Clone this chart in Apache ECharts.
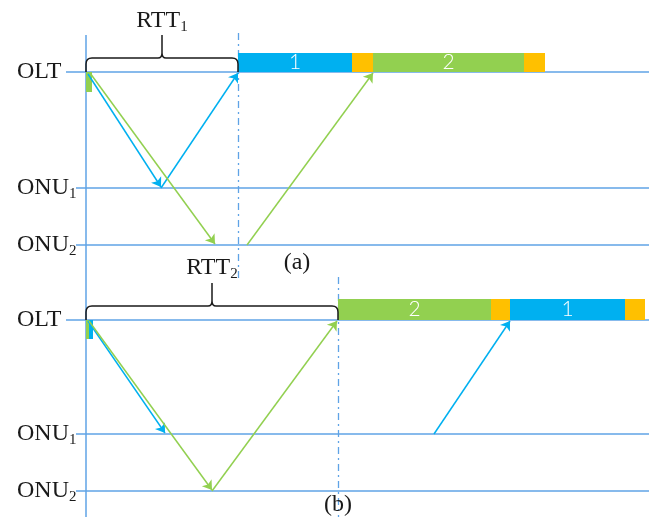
<!DOCTYPE html>
<html><head><meta charset="utf-8">
<script src="https://cdn.jsdelivr.net/npm/echarts@6/dist/echarts.min.js"></script>
<style>html,body{margin:0;padding:0;background:#fff}#c{width:657px;height:517px}</style>
</head><body><div id="c"></div>
<script>
// ---------- data (diagram units: 1 unit = 1 px of the 657x517 canvas) ----------
const laneLabels = ['OLT', 'ONU', 'ONU'];
const laneSubs = ['', '1', '2'];
const laneYA = [72, 188, 245];
const laneYB = [320, 434, 491];
const laneStartX = [66, 76, 76];
const laneEndX = 649;
const laneLabelX = 17;

const timeAxisX = 86;
const timeAxisSpan = [35, 517];
const rttMarkX = [238, 338];
const rttMarkSpanA = [33, 278];
const rttMarkSpanB = [277, 517];

const burstStartA = [238, 352, 373, 524];
const burstEndA   = [352, 373, 524, 545];
const burstKindA  = ['onu1', 'guard', 'onu2', 'guard'];
const burstTextA  = ['1', '', '2', ''];
const burstRowA   = [53, 72];
const burstStartB = [338, 491, 510, 625];
const burstEndB   = [491, 510, 625, 645];
const burstKindB  = ['onu2', 'guard', 'onu1', 'guard'];
const burstTextB  = ['2', '', '1', ''];
const burstRowB   = [299, 320];

const grantStartA = [86];
const grantEndA   = [92];
const grantKindA  = ['onu2'];
const grantRowA   = [72, 92];
const grantStartB = [86, 89];
const grantEndB   = [89, 93];
const grantKindB  = ['onu2', 'onu1'];
const grantRowB   = [320, 339];

const arrowFrom = [[88, 74], [161, 188], [90, 73], [247, 245], [88, 321], [89, 321], [212, 491], [434, 434]];
const arrowTo   = [[161, 187], [238, 73], [215, 244], [373, 73], [165, 433], [212, 490], [337, 321], [510, 321]];
const arrowKind = ['onu1', 'onu1', 'onu2', 'onu2', 'onu1', 'onu2', 'onu2', 'onu1'];

const braceFrom = [86, 86];
const braceTo   = [238, 338];
const braceBase = [72, 320];
const braceBar  = [58, 306];
const braceTip  = [35, 283];
const braceLabel = ['RTT', 'RTT'];
const braceSub   = ['1', '2'];
const braceLabelY = [21, 268];

const panelTags = ['(a)', '(b)'];
const panelTagX = [297, 338];
const panelTagY = [263, 505];

// ---------- styles ----------
const colors = { onu1: '#00b0f0', onu2: '#92d050', guard: '#ffc000' };
const laneColor = '#5fa3e6';
const serif = '"Liberation Serif","Times New Roman",serif';
const richStyle = {
  m: { fontFamily: serif, fontSize: 24, lineHeight: 28, fill: '#1a1a1a' },
  s: { fontFamily: serif, fontSize: 15, lineHeight: 14, verticalAlign: 'bottom', fill: '#1a1a1a' }
};

// ---------- build ----------
const laneLines = [];
[laneYA, laneYB].forEach(ys => ys.forEach((y, i) => laneLines.push({ coords: [[laneStartX[i], y], [laneEndX, y]] })));
laneLines.push({ coords: [[timeAxisX, timeAxisSpan[0]], [timeAxisX, timeAxisSpan[1]]] });

const rttLines = [
  { coords: [[rttMarkX[0], rttMarkSpanA[0]], [rttMarkX[0], rttMarkSpanA[1]]] },
  { coords: [[rttMarkX[1], rttMarkSpanB[0]], [rttMarkX[1], rttMarkSpanB[1]]] }
];

const arrows = arrowFrom.map((f, i) => ({
  coords: [f, arrowTo[i]],
  lineStyle: { color: colors[arrowKind[i]] }
}));

const rectRows = [];
const rectKinds = [];
const rectTexts = [];
function addRects(starts, ends, kinds, texts, row) {
  starts.forEach((s, i) => {
    rectRows.push([s, ends[i], row[0], row[1]]);
    rectKinds.push(kinds[i]);
    rectTexts.push(texts ? texts[i] : '');
  });
}
addRects(burstStartA, burstEndA, burstKindA, burstTextA, burstRowA);
addRects(burstStartB, burstEndB, burstKindB, burstTextB, burstRowB);
addRects(grantStartA, grantEndA, grantKindA, null, grantRowA);
addRects(grantStartB, grantEndB, grantKindB, null, grantRowB);

const braceRows = braceFrom.map((f, i) => [f, braceTo[i], braceBase[i], braceBar[i], braceTip[i]]);

const textRows = [];
const textStrings = [];
const textAlign = [];
[laneYA, laneYB].forEach(ys => ys.forEach((y, i) => {
  textRows.push([laneLabelX, y]);
  textStrings.push('{m|' + laneLabels[i] + '}' + (laneSubs[i] ? '{s|' + laneSubs[i] + '}' : ''));
  textAlign.push('left');
}));
braceFrom.forEach((f, i) => {
  textRows.push([(f + braceTo[i]) / 2, braceLabelY[i]]);
  textStrings.push('{m|' + braceLabel[i] + '}{s|' + braceSub[i] + '}');
  textAlign.push('center');
});
panelTags.forEach((t, i) => {
  textRows.push([panelTagX[i], panelTagY[i]]);
  textStrings.push('{m|' + t + '}');
  textAlign.push('center');
});

const chart = echarts.init(document.getElementById('c'), null, { renderer: 'canvas' });
chart.setOption({
  animation: false,
  backgroundColor: '#fff',
  grid: { left: 0, right: 0, top: 0, bottom: 0, containLabel: false },
  xAxis: { type: 'value', min: 0, max: 657, show: false },
  yAxis: { type: 'value', min: 0, max: 517, inverse: true, show: false },
  series: [
    {
      type: 'lines', coordinateSystem: 'cartesian2d', silent: true,
      symbol: ['none', 'none'],
      lineStyle: { color: laneColor, width: 1.5, opacity: 1 },
      data: laneLines, z: 1
    },
    {
      type: 'lines', coordinateSystem: 'cartesian2d', silent: true,
      symbol: ['none', 'none'],
      lineStyle: { color: laneColor, width: 1.3, type: [7, 4, 2, 4], opacity: 1 },
      data: rttLines, z: 1
    },
    {
      type: 'custom', coordinateSystem: 'cartesian2d', clip: false, silent: true,
      encode: { x: [0, 1], y: [2, 3] },
      data: rectRows, z: 3,
      renderItem: function (params, api) {
        const i = params.dataIndex;
        const p0 = api.coord([api.value(0), api.value(2)]);
        const p1 = api.coord([api.value(1), api.value(3)]);
        const el = {
          type: 'rect',
          shape: { x: p0[0], y: p0[1], width: p1[0] - p0[0], height: p1[1] - p0[1] },
          style: { fill: colors[rectKinds[i]] }
        };
        if (rectTexts[i]) {
          el.textContent = { style: { text: rectTexts[i], fill: '#fff', fontSize: 21, fontWeight: 300, fontFamily: 'Lato, "Open Sans", sans-serif' } };
          el.textConfig = { position: 'inside' };
        }
        return el;
      }
    },
    {
      type: 'lines', coordinateSystem: 'cartesian2d', silent: true,
      symbol: ['none', 'arrow'], symbolSize: 9,
      lineStyle: { width: 1.5, opacity: 1 },
      data: arrows, z: 4
    },
    {
      type: 'custom', coordinateSystem: 'cartesian2d', clip: false, silent: true,
      encode: { x: [0, 1], y: [2, 3, 4] },
      data: braceRows, z: 5,
      renderItem: function (params, api) {
        const a = api.coord([api.value(0), api.value(2)]);
        const b = api.coord([api.value(1), api.value(3)]);
        const t = api.coord([(api.value(0) + api.value(1)) / 2, api.value(4)]);
        const x0 = a[0], base = a[1], x1 = b[0], bar = b[1], c = t[0], tip = t[1];
        const r = 6;
        const d = 'M' + x0 + ',' + base + ' L' + x0 + ',' + (bar + r) +
          ' Q' + x0 + ',' + bar + ' ' + (x0 + r) + ',' + bar +
          ' L' + (c - 4) + ',' + bar + ' Q' + c + ',' + bar + ' ' + c + ',' + (bar - 5) +
          ' L' + c + ',' + tip +
          ' M' + c + ',' + (bar - 5) + ' Q' + c + ',' + bar + ' ' + (c + 4) + ',' + bar +
          ' L' + (x1 - r) + ',' + bar + ' Q' + x1 + ',' + bar + ' ' + x1 + ',' + (bar + r) +
          ' L' + x1 + ',' + base;
        return { type: 'path', shape: { pathData: d }, style: { stroke: '#1a1a1a', lineWidth: 1.5, fill: null } };
      }
    },
    {
      type: 'custom', coordinateSystem: 'cartesian2d', clip: false, silent: true,
      encode: { x: 0, y: 1 },
      data: textRows, z: 6,
      renderItem: function (params, api) {
        const i = params.dataIndex;
        const p = api.coord([api.value(0), api.value(1)]);
        return {
          type: 'text', x: p[0], y: p[1],
          style: { text: textStrings[i], rich: richStyle, align: textAlign[i], verticalAlign: 'middle', fill: '#1a1a1a', fontFamily: serif, fontSize: 24 }
        };
      }
    }
  ]
});
</script></body></html>
